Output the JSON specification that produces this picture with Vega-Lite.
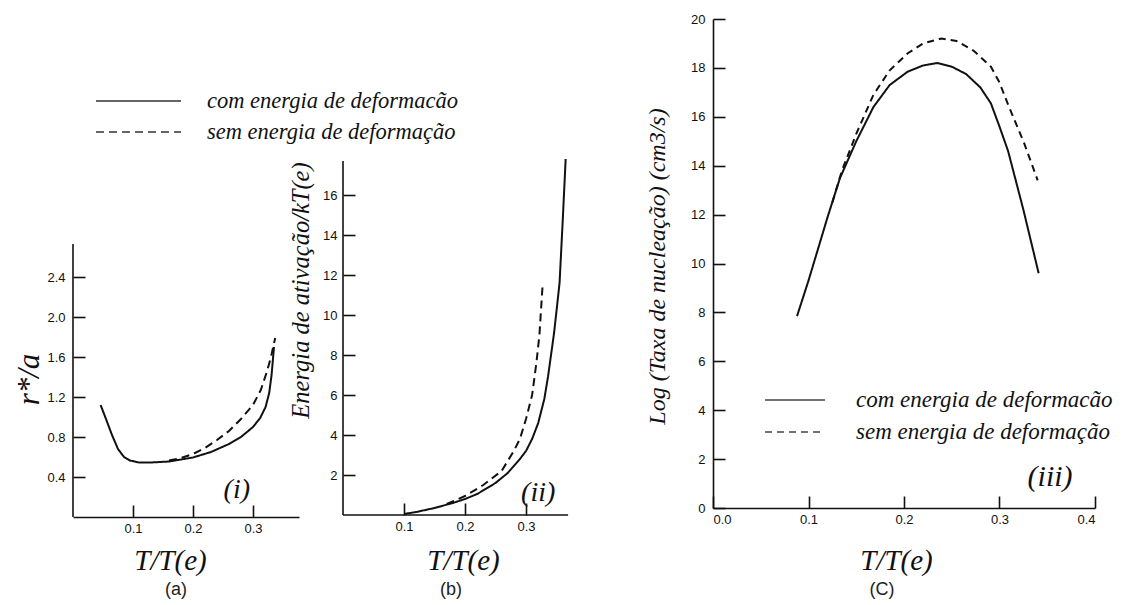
{
  "$schema": "https://vega.github.io/schema/vega-lite/v6.json",
  "autosize": {"type": "none"},
  "padding": {"left": 73, "top": 19, "right": 1051, "bottom": 586},
  "background": "white",
  "spacing": 44,
  "bounds": "flush",
  "config": {
    "view": {"stroke": null},
    "axis": {
      "grid": false,
      "labelFont": "Liberation Sans",
      "labelFontSize": 13,
      "labelColor": "#111",
      "domainColor": "#111",
      "domainWidth": 1.6,
      "tickColor": "#111",
      "tickWidth": 1.6,
      "tickSize": -12,
      "titleFont": "Liberation Serif, Times New Roman, serif",
      "titleFontStyle": "italic",
      "titleFontWeight": "normal",
      "titleColor": "#111"
    },
    "axisX": {"labelPadding": 17},
    "axisY": {"labelPadding": 20},
    "title": {"font": "Liberation Sans", "fontSize": 18, "fontWeight": "normal", "color": "#222"}
  },
  "datasets": {
    "a": [
      {"T": 0.046, "valor": 1.12, "curva": "com energia de deformacão"},
      {"T": 0.055, "valor": 0.98, "curva": "com energia de deformacão"},
      {"T": 0.065, "valor": 0.82, "curva": "com energia de deformacão"},
      {"T": 0.075, "valor": 0.68, "curva": "com energia de deformacão"},
      {"T": 0.085, "valor": 0.6, "curva": "com energia de deformacão"},
      {"T": 0.095, "valor": 0.565, "curva": "com energia de deformacão"},
      {"T": 0.11, "valor": 0.545, "curva": "com energia de deformacão"},
      {"T": 0.13, "valor": 0.545, "curva": "com energia de deformacão"},
      {"T": 0.16, "valor": 0.555, "curva": "com energia de deformacão"},
      {"T": 0.2, "valor": 0.595, "curva": "com energia de deformacão"},
      {"T": 0.23, "valor": 0.65, "curva": "com energia de deformacão"},
      {"T": 0.26, "valor": 0.73, "curva": "com energia de deformacão"},
      {"T": 0.28, "valor": 0.8, "curva": "com energia de deformacão"},
      {"T": 0.3, "valor": 0.9, "curva": "com energia de deformacão"},
      {"T": 0.312, "valor": 0.99, "curva": "com energia de deformacão"},
      {"T": 0.321, "valor": 1.1, "curva": "com energia de deformacão"},
      {"T": 0.327, "valor": 1.24, "curva": "com energia de deformacão"},
      {"T": 0.331, "valor": 1.42, "curva": "com energia de deformacão"},
      {"T": 0.335, "valor": 1.7, "curva": "com energia de deformacão"},
      {"T": 0.16, "valor": 0.565, "curva": "sem energia de deformação"},
      {"T": 0.18, "valor": 0.59, "curva": "sem energia de deformação"},
      {"T": 0.2, "valor": 0.63, "curva": "sem energia de deformação"},
      {"T": 0.22, "valor": 0.69, "curva": "sem energia de deformação"},
      {"T": 0.24, "valor": 0.77, "curva": "sem energia de deformação"},
      {"T": 0.26, "valor": 0.86, "curva": "sem energia de deformação"},
      {"T": 0.28, "valor": 0.98, "curva": "sem energia de deformação"},
      {"T": 0.3, "valor": 1.12, "curva": "sem energia de deformação"},
      {"T": 0.313, "valor": 1.27, "curva": "sem energia de deformação"},
      {"T": 0.323, "valor": 1.45, "curva": "sem energia de deformação"},
      {"T": 0.33, "valor": 1.6, "curva": "sem energia de deformação"},
      {"T": 0.337, "valor": 1.79, "curva": "sem energia de deformação"}
    ],
    "b": [
      {"T": 0.1, "valor": 0.05, "curva": "com energia de deformacão"},
      {"T": 0.12, "valor": 0.15, "curva": "com energia de deformacão"},
      {"T": 0.15, "valor": 0.35, "curva": "com energia de deformacão"},
      {"T": 0.18, "valor": 0.6, "curva": "com energia de deformacão"},
      {"T": 0.2, "valor": 0.8, "curva": "com energia de deformacão"},
      {"T": 0.22, "valor": 1.05, "curva": "com energia de deformacão"},
      {"T": 0.25, "valor": 1.6, "curva": "com energia de deformacão"},
      {"T": 0.27, "valor": 2.1, "curva": "com energia de deformacão"},
      {"T": 0.29, "valor": 2.8, "curva": "com energia de deformacão"},
      {"T": 0.3, "valor": 3.2, "curva": "com energia de deformacão"},
      {"T": 0.31, "valor": 3.8, "curva": "com energia de deformacão"},
      {"T": 0.32, "valor": 4.6, "curva": "com energia de deformacão"},
      {"T": 0.33, "valor": 5.8, "curva": "com energia de deformacão"},
      {"T": 0.336, "valor": 6.9, "curva": "com energia de deformacão"},
      {"T": 0.346, "valor": 9.1, "curva": "com energia de deformacão"},
      {"T": 0.355, "valor": 11.6, "curva": "com energia de deformacão"},
      {"T": 0.36, "valor": 14.6, "curva": "com energia de deformacão"},
      {"T": 0.365, "valor": 17.8, "curva": "com energia de deformacão"},
      {"T": 0.17, "valor": 0.55, "curva": "sem energia de deformação"},
      {"T": 0.2, "valor": 0.95, "curva": "sem energia de deformação"},
      {"T": 0.23, "valor": 1.5, "curva": "sem energia de deformação"},
      {"T": 0.26, "valor": 2.2, "curva": "sem energia de deformação"},
      {"T": 0.28, "valor": 3.2, "curva": "sem energia de deformação"},
      {"T": 0.29, "valor": 3.8, "curva": "sem energia de deformação"},
      {"T": 0.3, "valor": 4.8, "curva": "sem energia de deformação"},
      {"T": 0.31, "valor": 6.0, "curva": "sem energia de deformação"},
      {"T": 0.317, "valor": 7.6, "curva": "sem energia de deformação"},
      {"T": 0.322, "valor": 9.0, "curva": "sem energia de deformação"},
      {"T": 0.327, "valor": 11.4, "curva": "sem energia de deformação"}
    ],
    "c": [
      {"T": 0.088, "valor": 7.85, "curva": "com energia de deformacão"},
      {"T": 0.1, "valor": 9.3, "curva": "com energia de deformacão"},
      {"T": 0.11, "valor": 10.6, "curva": "com energia de deformacão"},
      {"T": 0.12, "valor": 11.9, "curva": "com energia de deformacão"},
      {"T": 0.133, "valor": 13.5, "curva": "com energia de deformacão"},
      {"T": 0.15, "valor": 15.0, "curva": "com energia de deformacão"},
      {"T": 0.168, "valor": 16.4, "curva": "com energia de deformacão"},
      {"T": 0.185, "valor": 17.3, "curva": "com energia de deformacão"},
      {"T": 0.204, "valor": 17.85, "curva": "com energia de deformacão"},
      {"T": 0.22, "valor": 18.1, "curva": "com energia de deformacão"},
      {"T": 0.235, "valor": 18.2, "curva": "com energia de deformacão"},
      {"T": 0.25, "valor": 18.05, "curva": "com energia de deformacão"},
      {"T": 0.265, "valor": 17.75, "curva": "com energia de deformacão"},
      {"T": 0.28, "valor": 17.2, "curva": "com energia de deformacão"},
      {"T": 0.291, "valor": 16.55, "curva": "com energia de deformacão"},
      {"T": 0.3, "valor": 15.6, "curva": "com energia de deformacão"},
      {"T": 0.309, "valor": 14.6, "curva": "com energia de deformacão"},
      {"T": 0.317, "valor": 13.4, "curva": "com energia de deformacão"},
      {"T": 0.325, "valor": 12.2, "curva": "com energia de deformacão"},
      {"T": 0.333, "valor": 10.9, "curva": "com energia de deformacão"},
      {"T": 0.341, "valor": 9.6, "curva": "com energia de deformacão"},
      {"T": 0.125, "valor": 12.5, "curva": "sem energia de deformação"},
      {"T": 0.135, "valor": 13.8, "curva": "sem energia de deformação"},
      {"T": 0.15, "valor": 15.3, "curva": "sem energia de deformação"},
      {"T": 0.168, "valor": 16.9, "curva": "sem energia de deformação"},
      {"T": 0.185, "valor": 17.9, "curva": "sem energia de deformação"},
      {"T": 0.204, "valor": 18.6, "curva": "sem energia de deformação"},
      {"T": 0.22, "valor": 19.0, "curva": "sem energia de deformação"},
      {"T": 0.239, "valor": 19.2, "curva": "sem energia de deformação"},
      {"T": 0.255, "valor": 19.1, "curva": "sem energia de deformação"},
      {"T": 0.273, "valor": 18.7, "curva": "sem energia de deformação"},
      {"T": 0.291, "valor": 18.05, "curva": "sem energia de deformação"},
      {"T": 0.3, "valor": 17.4, "curva": "sem energia de deformação"},
      {"T": 0.309, "valor": 16.5, "curva": "sem energia de deformação"},
      {"T": 0.326, "valor": 14.9, "curva": "sem energia de deformação"},
      {"T": 0.34, "valor": 13.4, "curva": "sem energia de deformação"}
    ]
  },
  "resolve": {"scale": {"strokeDash": "independent"}, "legend": {"strokeDash": "independent"}},
  "hconcat": [
    {
      "width": 226,
      "height": 498,
      "title": {"text": "(a)", "orient": "bottom", "frame": "group", "anchor": "middle", "dx": -10, "offset": 6},
      "layer": [
        {
          "data": {"name": "a"},
          "mark": {"type": "line", "strokeWidth": 2, "color": "#111"},
          "encoding": {
            "x": {
              "field": "T", "type": "quantitative",
              "scale": {"domain": [0, 0.3767], "nice": false, "zero": false},
              "axis": {"values": [0.1, 0.2, 0.3], "format": ".1f", "title": "T/T(e)", "titleFontSize": 29, "titleX": 97, "titleY": 43, "titleAlign": "center", "titleBaseline": "middle"}
            },
            "y": {
              "field": "valor", "type": "quantitative",
              "scale": {"domain": [0, 4.98], "nice": false},
              "axis": {"values": [0.4, 0.8, 1.2, 1.6, 2.0, 2.4], "format": ".1f", "domain": false, "title": "r*/a", "titleFontSize": 31, "titleAngle": -90, "titleX": -35, "titleY": 360, "titleAlign": "center", "titleBaseline": "alphabetic"}
            },
            "strokeDash": {
              "field": "curva", "type": "nominal",
              "scale": {"domain": ["com energia de deformacão", "sem energia de deformação"], "range": [[1, 0], [8, 5]]},
              "legend": {"orient": "none", "legendX": 22, "legendY": 67, "title": null, "symbolType": "stroke", "symbolSize": 7225, "symbolStrokeWidth": 1.5, "symbolStrokeColor": "#333", "clipHeight": 30, "rowPadding": 1, "labelFont": "Liberation Serif, Times New Roman, serif", "labelFontStyle": "italic", "labelFontSize": 22.5, "labelColor": "#111", "labelOffset": 25, "labelLimit": 0}
            }
          }
        },
        {
          "data": {"values": [{}]},
          "mark": {"type": "rule", "strokeWidth": 1.6, "color": "#111"},
          "encoding": {"x": {"datum": 0}, "y": {"datum": 0}, "y2": {"datum": 2.73}}
        },
        {
          "data": {"values": [{}]},
          "mark": {"type": "text", "font": "Liberation Serif, Times New Roman, serif", "fontStyle": "italic", "fontSize": 28, "color": "#111", "align": "center", "baseline": "middle"},
          "encoding": {"x": {"datum": 0.273}, "y": {"datum": 0.27}, "text": {"value": "(i)"}}
        }
      ]
    },
    {
      "width": 326,
      "height": 496,
      "title": {"text": "(b)", "orient": "bottom", "frame": "group", "anchor": "middle", "dx": -55, "offset": 6},
      "layer": [
        {
          "data": {"name": "b"},
          "mark": {"type": "line", "strokeWidth": 2, "color": "#111"},
          "encoding": {
            "x": {
              "field": "T", "type": "quantitative",
              "scale": {"domain": [0, 0.5344], "nice": false, "zero": false},
              "axis": {"values": [0.1, 0.2, 0.3], "format": ".1f", "domain": false, "title": "T/T(e)", "titleFontSize": 29, "titleX": 120, "titleY": 45, "titleAlign": "center", "titleBaseline": "middle"}
            },
            "y": {
              "field": "valor", "type": "quantitative",
              "scale": {"domain": [0, 24.8], "nice": false},
              "axis": {"values": [2, 4, 6, 8, 10, 12, 14, 16], "domain": false, "labelFontSize": 13, "labelPadding": 18, "title": "Energia de ativação/kT(e)", "titleFontSize": 24.5, "titleAngle": -90, "titleX": -35, "titleY": 271, "titleAlign": "center", "titleBaseline": "alphabetic"}
            },
            "strokeDash": {
              "field": "curva", "type": "nominal",
              "scale": {"domain": ["com energia de deformacão", "sem energia de deformação"], "range": [[1, 0], [8, 5]]},
              "legend": null
            }
          }
        },
        {
          "data": {"values": [{}]},
          "mark": {"type": "rule", "strokeWidth": 1.6, "color": "#111"},
          "encoding": {"x": {"datum": 0}, "y": {"datum": 0}, "y2": {"datum": 17.7}}
        },
        {
          "data": {"values": [{}]},
          "mark": {"type": "rule", "strokeWidth": 1.6, "color": "#111"},
          "encoding": {"x": {"datum": 0}, "x2": {"datum": 0.369}, "y": {"datum": 0}}
        },
        {
          "data": {"values": [{}]},
          "mark": {"type": "text", "font": "Liberation Serif, Times New Roman, serif", "fontStyle": "italic", "fontSize": 28, "color": "#111", "align": "center", "baseline": "middle"},
          "encoding": {"x": {"datum": 0.32}, "y": {"datum": 1.1}, "text": {"value": "(ii)"}}
        }
      ]
    },
    {
      "width": 382,
      "height": 489,
      "title": {"text": "(C)", "orient": "bottom", "frame": "group", "anchor": "middle", "dx": -22, "offset": 6},
      "layer": [
        {
          "data": {"name": "c"},
          "mark": {"type": "line", "strokeWidth": 2, "color": "#111"},
          "encoding": {
            "x": {
              "field": "T", "type": "quantitative",
              "scale": {"domain": [0, 0.4], "nice": false, "zero": false},
              "axis": {"values": [0, 0.1, 0.2, 0.3, 0.4], "format": ".1f", "title": "T/T(e)", "titleFontSize": 29, "titleX": 183, "titleY": 52, "titleAlign": "center", "titleBaseline": "middle"}
            },
            "y": {
              "field": "valor", "type": "quantitative",
              "scale": {"domain": [0, 20], "nice": false},
              "axis": {"values": [0, 2, 4, 6, 8, 10, 12, 14, 16, 18, 20], "labelFontSize": 13, "title": "Log (Taxa de nucleação) (cm3/s)", "titleFontSize": 24, "titleAngle": -90, "titleX": -49, "titleY": 247, "titleAlign": "center", "titleBaseline": "alphabetic"}
            },
            "strokeDash": {
              "field": "curva", "type": "nominal",
              "scale": {"domain": ["com energia de deformacão", "sem energia de deformação"], "range": [[1, 0], [7, 5]]},
              "legend": {"orient": "none", "legendX": 51, "legendY": 366, "title": null, "symbolType": "stroke", "symbolSize": 3600, "symbolStrokeWidth": 1.5, "symbolStrokeColor": "#444", "clipHeight": 30, "rowPadding": 2, "labelFont": "Liberation Serif, Times New Roman, serif", "labelFontStyle": "italic", "labelFontSize": 23, "labelColor": "#111", "labelOffset": 30, "labelLimit": 0}
            }
          }
        },
        {
          "data": {"values": [{}]},
          "mark": {"type": "text", "font": "Liberation Serif, Times New Roman, serif", "fontStyle": "italic", "fontSize": 30, "color": "#111", "align": "center", "baseline": "middle"},
          "encoding": {"x": {"datum": 0.353}, "y": {"datum": 1.28}, "text": {"value": "(iii)"}}
        }
      ]
    }
  ]
}
